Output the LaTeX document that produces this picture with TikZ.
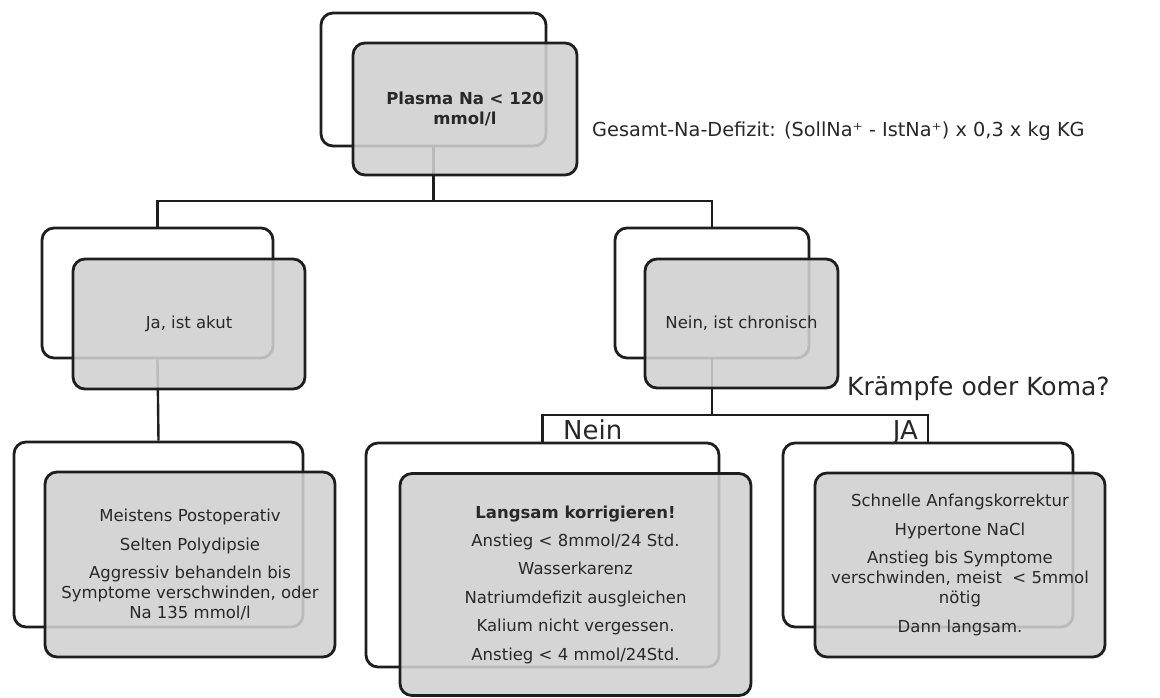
\documentclass[tikz,border=0pt]{standalone}
\usepackage{fontspec}
\setmainfont{DejaVu Sans}
\usetikzlibrary{calc}
\definecolor{boxgray}{RGB}{208,208,208}
\definecolor{txt}{RGB}{40,40,40}
\definecolor{edge}{RGB}{30,30,30}
\begin{document}
\begin{tikzpicture}[x=1pt,y=-1pt,
  backbox/.style={draw=edge, line width=2.8pt, rounded corners=12pt, fill=white, inner sep=0pt},
  frontbox/.style={draw=edge, line width=2.8pt, rounded corners=12pt, fill=boxgray, fill opacity=0.88, text opacity=1, inner sep=0pt, align=center, text=txt, font=\fontsize{16.5}{20}\selectfont},
  conn/.style={line width=2.4pt, draw=edge},
  bigtext/.style={text=txt, inner sep=0pt, font=\fontsize{25}{30}\selectfont}]
\useasboundingbox (0,0) rectangle (1160,697);

% back (white) boxes
\node[backbox, minimum width=225pt, minimum height=133pt] (topB) at (433.5,79.5) {};
\node[backbox, minimum width=231pt, minimum height=130pt] (akutB) at (157.5,293) {};
\node[backbox, minimum width=194pt, minimum height=130pt] (chronB) at (712,293) {};
\node[backbox, minimum width=289pt, minimum height=185pt] (postB) at (158.5,534.5) {};
\node[backbox, minimum width=353pt, minimum height=224pt] (langB) at (542.5,555) {};
\node[backbox, minimum width=290pt, minimum height=184pt] (schnB) at (928,535) {};

% connectors
\coordinate (j1) at (433.5,201);
\coordinate (j2) at (712,415);
\draw[conn] (topB.south) -- (j1);
\draw[conn] (akutB.north) |- (j1) -| (chronB.north);
\draw[conn] (akutB.south) -- (postB.north);
\draw[conn] (chronB.south) -- (j2);
\draw[conn] (langB.north) |- (j2) -| (schnB.north);

% front (grey) boxes
\node[frontbox, minimum width=224pt, minimum height=132pt] (topF) at (465,109)
  {\textbf{Plasma Na < 120}\\\textbf{mmol/l}};
\node[frontbox, minimum width=232pt, minimum height=130pt] (akutF) at (189,324)
  {Ja, ist akut};
\node[frontbox, minimum width=193pt, minimum height=129pt] (chronF) at (741.5,323.5)
  {Nein, ist chronisch};
\node[frontbox, minimum width=290pt, minimum height=185pt] (postF) at (190,564.5)
  {Meistens Postoperativ\\[8.5pt]
   Selten Polydipsie\\[8.5pt]
   Aggressiv behandeln bis\\
   Symptome verschwinden, oder\\
   Na 135 mmol/l};
\node[frontbox, minimum width=351pt, minimum height=222pt] (langF) at (575.5,584.5)
  {\textbf{Langsam korrigieren!}\\[8.4pt]
   Anstieg < 8mmol/24 Std.\\[8.4pt]
   Wasserkarenz\\[8.4pt]
   Natriumdefizit ausgleichen\\[8.4pt]
   Kalium nicht vergessen.\\[8.4pt]
   Anstieg < 4 mmol/24Std.};
\node[frontbox, minimum width=290pt, minimum height=184pt] (schnF) at (960,565)
  {Schnelle Anfangskorrektur\\[9pt]
   Hypertone NaCl\\[8pt]
   Anstieg bis Symptome\\
   verschwinden, meist~~< 5mmol\\
   nötig\\[9pt]
   Dann langsam.};

% free texts
\node[text=txt, inner sep=0pt, anchor=west, font=\fontsize{19.3}{23}\selectfont] (formel) at (592,131)
  {Gesamt-Na-Defizit: (SollNa⁺ - IstNa⁺) x 0,3 x kg KG};
\node[bigtext, anchor=base west] (frage) at (847,395) {Krämpfe oder Koma?};
\node[bigtext, anchor=base west, font=\fontsize{26}{30}\selectfont] (nein) at (563,439) {Nein};
\node[bigtext, anchor=base east, font=\fontsize{26}{30}\selectfont] (ja) at (918,439) {JA};
\end{tikzpicture}
\end{document}
